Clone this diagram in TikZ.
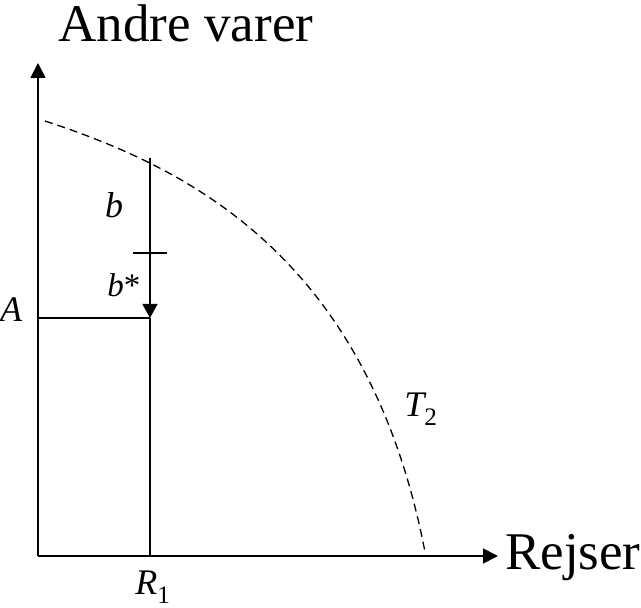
\documentclass[tikz,border=0pt]{standalone}
\usepackage{fontspec}
\setmainfont{Liberation Serif}
\usetikzlibrary{arrows.meta}
\tikzset{
  axis/.style={line width=1.8pt,-{Triangle[length=15pt,width=15pt]}},
  lbl/.style={font=\fontsize{36}{40}\selectfont\itshape,inner sep=0pt,anchor=base},
  big/.style={font=\fontsize{53}{60}\selectfont,inner sep=0pt,anchor=base}
}
\begin{document}
\begin{tikzpicture}[x=1pt,y=1pt]
      \useasboundingbox (-38,-52) rectangle (603,556);
      \coordinate (O) at (0,0);
      \coordinate (ytip) at (0,493);
      \coordinate (xtip) at (460,0);
      \coordinate (top) at (112,398);
      \coordinate (mid) at (112,238);
      \coordinate (bot) at (112,0);
      \coordinate (Aleft) at (0,238);
      % transformation curve
      \draw[dashed,line width=1.3pt,dash pattern=on 8pt off 5pt]
        (7,435) .. controls (150,388) and (330,300) .. (387,4);
      \draw[axis] (O) -- (ytip);
      \draw[axis] (O) -- (xtip);
      \draw[line width=1.8pt] (mid) -- (bot);
      \draw[line width=1.8pt] (Aleft) -- (mid);
      \draw[line width=1.8pt,-{Triangle[length=14pt,width=15pt]}] (top) -- (mid);
      \draw[line width=1.8pt] (95,303) -- (129,303);
      \node[big] (yname) at (148,514) {Andre varer};
      \node[big,anchor=base west] (xname) at (467,-14) {Rejser};
      \node[lbl] (b) at (76,338) {b};
      \node[lbl,font=\fontsize{33}{36}\selectfont\itshape] (bstar) at (86,259) {b\upshape*};
      \node[lbl] (A) at (-27,234) {A};
      \node[lbl] (R) at (115,-39) {R\textsubscript{\upshape 1}};
      \node[lbl] (T) at (383,139) {T\textsubscript{\upshape 2}};
    \end{tikzpicture}
\end{document}
